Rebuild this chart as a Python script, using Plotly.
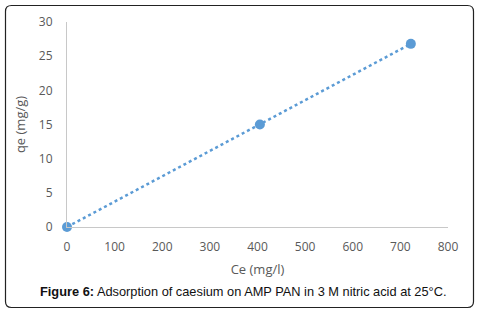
import plotly.graph_objects as go

ce = [0, 405, 722]
qe = [0, 15.0, 26.8]
x_ticks = [0, 100, 200, 300, 400, 500, 600, 700, 800]
y_ticks = [0, 5, 10, 15, 20, 25, 30]

W, H = 477, 312
L, R, T, B = 67, 448, 22, 227

def px(p):
    return (p - L) / (R - L)

def py(q):
    return (B - q) / (B - T)

fig = go.Figure()
fig.add_trace(go.Scatter(x=ce, y=qe, mode="lines", line=dict(color="#5b9bd5", width=2.5, dash="dot"),
                         hoverinfo="skip", showlegend=False, cliponaxis=False))
fig.add_trace(go.Scatter(x=ce, y=qe, mode="markers", marker=dict(color="#5b9bd5", size=10),
                         showlegend=False, cliponaxis=False))

# rounded border
x0, x1, y0, y1, r = 5.5, 473.5, 5.5, 307.5, 6
path = (f"M {px(x0+r)},{py(y0)} L {px(x1-r)},{py(y0)} Q {px(x1)},{py(y0)} {px(x1)},{py(y0+r)} "
        f"L {px(x1)},{py(y1-r)} Q {px(x1)},{py(y1)} {px(x1-r)},{py(y1)} "
        f"L {px(x0+r)},{py(y1)} Q {px(x0)},{py(y1)} {px(x0)},{py(y1-r)} "
        f"L {px(x0)},{py(y0+r)} Q {px(x0)},{py(y0)} {px(x0+r)},{py(y0)} Z")
fig.add_shape(type="path", path=path, xref="paper", yref="paper",
              line=dict(color="#222222", width=1.2), layer="below")

fig.add_annotation(text="<b>Figure 6:</b> Adsorption of caesium on AMP PAN in 3 M nitric acid at 25°C.",
                   xref="paper", yref="paper", x=px(243), y=py(291), showarrow=False,
                   xanchor="center", yanchor="middle",
                   font=dict(family="Liberation Sans, Arial", size=12.8, color="#111111"))

fig.update_layout(
    width=W, height=H,
    margin=dict(l=L, r=W - R, t=T, b=H - B),
    plot_bgcolor="white", paper_bgcolor="white",
    font=dict(family="Open Sans, Liberation Sans", size=12, color="#595959"),
    xaxis=dict(range=[0, 800], tickvals=x_ticks, showgrid=False, zeroline=False,
               showline=True, linecolor="#c8c8c8", linewidth=1, ticks="",
               ticklabelstandoff=9,
               title=dict(text="Ce (mg/l)", font=dict(size=13, color="#595959"), standoff=10),
               tickfont=dict(size=12, color="#595959")),
    yaxis=dict(range=[0, 30], tickvals=y_ticks, showgrid=False, zeroline=False,
               showline=True, linecolor="#c8c8c8", linewidth=1, ticks="",
               ticklabelstandoff=11,
               title=dict(text="qe (mg/g)", font=dict(size=13, color="#595959"), standoff=10),
               tickfont=dict(size=12, color="#595959")),
)

fig.write_html("out.html", config={"displayModeBar": False},
               post_script="document.body.style.margin='0';")
